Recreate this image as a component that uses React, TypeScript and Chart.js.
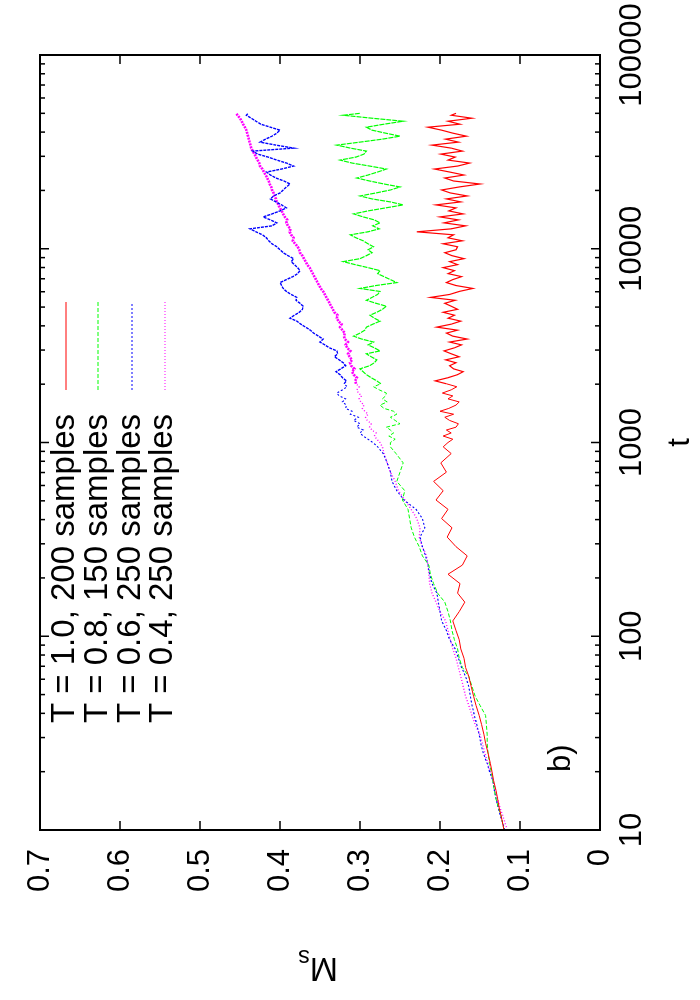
import React, { useEffect, useRef } from "react";
import { Chart, registerables } from "chart.js";

Chart.register(...registerables);

// time grid (t), shared by all four series
const tValues: number[] = [
  10, 11, 12, 13, 14.5, 16, 18, 20, 22, 25,
  28, 31, 35, 39, 44, 49, 55, 62, 69, 77,
  86, 96, 107, 120, 134, 150, 167, 187, 209, 233,
  260, 290, 325, 363, 405, 452, 505, 564, 630, 703,
  785, 877, 950,
  1000, 1040, 1080, 1120, 1160, 1200, 1250, 1300, 1350, 1400,
  1450, 1500, 1560, 1620, 1680, 1740, 1800, 1870, 1940, 2010,
  2080, 2160, 2240, 2320, 2400, 2490, 2580, 2670, 2770, 2870,
  2970, 3080, 3190, 3300, 3420, 3540, 3670, 3800, 3940, 4080,
  4230, 4380, 4540, 4700, 4870, 5050, 5230, 5420, 5610, 5810,
  6020, 6240, 6460, 6690, 6930, 7180, 7440, 7710, 7990, 8280,
  8580, 8890, 9210, 9540, 9880,
  10240, 10610, 10990, 11390, 11800, 12230, 12670, 13130, 13600, 14090,
  14600, 15130, 15680, 16250, 16840, 17450, 18080, 18730, 19410, 20110,
  20840, 21590, 22370, 23180, 24020, 24890, 25790, 26720, 27690, 28690,
  29730, 30800, 31920, 33070, 34270, 35510, 36790, 38120, 39500, 40930,
  42410, 43940, 45530, 47180, 48880, 50000,
];

// T = 1.0, 200 samples
const redValues: number[] = [
  0.120, 0.122, 0.124, 0.126, 0.128, 0.130, 0.133, 0.135, 0.137, 0.140,
  0.143, 0.145, 0.148, 0.151, 0.155, 0.158, 0.161, 0.164, 0.168, 0.170,
  0.174, 0.176, 0.180, 0.184, 0.176, 0.169, 0.178, 0.175, 0.190, 0.172,
  0.166, 0.180, 0.191, 0.185, 0.198, 0.190, 0.205, 0.196, 0.208, 0.192,
  0.199, 0.186, 0.196,
  0.190, 0.184, 0.196, 0.186, 0.192, 0.180, 0.177, 0.188, 0.194, 0.183,
  0.200, 0.189, 0.180, 0.176, 0.190, 0.184, 0.197, 0.186, 0.179, 0.192,
  0.206, 0.190, 0.178, 0.171, 0.183, 0.188, 0.180, 0.193, 0.176, 0.186,
  0.195, 0.182, 0.173, 0.188, 0.166, 0.184, 0.192, 0.178, 0.204, 0.186,
  0.174, 0.190, 0.182, 0.196, 0.178, 0.186, 0.194, 0.181, 0.212, 0.188,
  0.176, 0.159, 0.180, 0.192, 0.184, 0.173, 0.190, 0.182, 0.196, 0.178,
  0.188, 0.170, 0.185, 0.194, 0.180,
  0.178, 0.196, 0.172, 0.190, 0.183, 0.229, 0.186, 0.168, 0.195, 0.177,
  0.200, 0.171, 0.189, 0.180, 0.205, 0.174, 0.192, 0.166, 0.187, 0.198,
  0.176, 0.150, 0.183, 0.194, 0.170, 0.188, 0.207, 0.178, 0.163, 0.190,
  0.181, 0.199, 0.172, 0.186, 0.210, 0.177, 0.193, 0.167, 0.184, 0.198,
  0.215, 0.175, 0.190, 0.160, 0.186, 0.180,
];

// T = 0.8, 150 samples
const greenValues: number[] = [
  0.120, 0.122, 0.124, 0.127, 0.130, 0.132, 0.134, 0.136, 0.138, 0.140,
  0.141, 0.141, 0.142, 0.143, 0.150, 0.156, 0.160, 0.164, 0.172, 0.176,
  0.178, 0.182, 0.185, 0.187, 0.190, 0.194, 0.203, 0.208, 0.212, 0.214,
  0.222, 0.226, 0.232, 0.236, 0.238, 0.240, 0.247, 0.244, 0.254, 0.250,
  0.246, 0.255, 0.262,
  0.262, 0.256, 0.264, 0.258, 0.262, 0.267, 0.250, 0.256, 0.262, 0.254,
  0.258, 0.270, 0.275, 0.266, 0.272, 0.268, 0.267, 0.276, 0.283, 0.274,
  0.279, 0.286, 0.292, 0.296, 0.300, 0.288, 0.282, 0.279, 0.286, 0.292,
  0.275, 0.282, 0.290, 0.283, 0.298, 0.308, 0.300, 0.294, 0.292, 0.284,
  0.275, 0.282, 0.2875, 0.279, 0.272, 0.267, 0.280, 0.292, 0.285, 0.278,
  0.275, 0.300, 0.280, 0.254, 0.262, 0.270, 0.278, 0.275, 0.290, 0.306,
  0.321, 0.300, 0.292, 0.285, 0.290,
  0.283, 0.290, 0.296, 0.305, 0.312, 0.290, 0.276, 0.284, 0.275, 0.282,
  0.296, 0.308, 0.290, 0.268, 0.246, 0.262, 0.285, 0.300, 0.280, 0.262,
  0.250, 0.270, 0.288, 0.304, 0.290, 0.278, 0.267, 0.288, 0.310, 0.325,
  0.305, 0.295, 0.292, 0.312, 0.329, 0.300, 0.272, 0.250, 0.268, 0.285,
  0.292, 0.270, 0.246, 0.285, 0.321, 0.300,
];

// T = 0.6, 250 samples
const blueValues: number[] = [
  0.119, 0.122, 0.125, 0.127, 0.130, 0.132, 0.134, 0.138, 0.141, 0.146,
  0.149, 0.151, 0.154, 0.157, 0.160, 0.162, 0.164, 0.168, 0.173, 0.177,
  0.181, 0.188, 0.192, 0.198, 0.200, 0.202, 0.204, 0.210, 0.213, 0.215,
  0.218, 0.222, 0.225, 0.219, 0.222, 0.230, 0.245, 0.254, 0.260, 0.262,
  0.266, 0.271, 0.278,
  0.284, 0.290, 0.296, 0.300, 0.296, 0.304, 0.300, 0.308, 0.302, 0.312,
  0.310, 0.318, 0.317, 0.322, 0.318, 0.326, 0.329, 0.322, 0.316, 0.320,
  0.317, 0.322, 0.325, 0.330, 0.324, 0.318, 0.321, 0.326, 0.332, 0.328,
  0.329, 0.338, 0.344, 0.350, 0.346, 0.352, 0.358, 0.362, 0.368, 0.374,
  0.379, 0.3875, 0.382, 0.376, 0.372, 0.371, 0.375, 0.380, 0.379, 0.386,
  0.392, 0.396, 0.398, 0.400, 0.392, 0.384, 0.378, 0.375, 0.378, 0.382,
  0.386, 0.383, 0.390, 0.396, 0.400,
  0.404, 0.410, 0.414, 0.417, 0.422, 0.430, 0.4375, 0.410, 0.404, 0.412,
  0.421, 0.410, 0.400, 0.392, 0.398, 0.405, 0.412, 0.408, 0.400, 0.396,
  0.392, 0.3875, 0.395, 0.405, 0.412, 0.4167, 0.398, 0.383, 0.392, 0.404,
  0.415, 0.428, 0.434, 0.383, 0.405, 0.425, 0.418, 0.410, 0.404, 0.400,
  0.412, 0.424, 0.430, 0.436, 0.442, 0.440,
];

// T = 0.4, 250 samples
const magentaValues: number[] = [
  0.116, 0.119, 0.122, 0.125, 0.128, 0.131, 0.134, 0.137, 0.140, 0.144,
  0.147, 0.150, 0.156, 0.160, 0.164, 0.168, 0.171, 0.174, 0.177, 0.180,
  0.184, 0.187, 0.190, 0.193, 0.200, 0.205, 0.210, 0.213, 0.214, 0.215,
  0.217, 0.222, 0.226, 0.225, 0.229, 0.236, 0.244, 0.252, 0.256, 0.262,
  0.266, 0.270, 0.272,
  0.275, 0.279, 0.282, 0.280, 0.285, 0.288, 0.286, 0.291, 0.293, 0.290,
  0.294, 0.297, 0.295, 0.299, 0.301, 0.298, 0.302, 0.304, 0.301, 0.305,
  0.306, 0.304, 0.308, 0.310, 0.307, 0.311, 0.3125, 0.310, 0.313, 0.315,
  0.312, 0.316, 0.318, 0.315, 0.319, 0.320, 0.319, 0.322, 0.325, 0.323,
  0.327, 0.329, 0.328, 0.332, 0.334, 0.336, 0.338, 0.340, 0.342, 0.344,
  0.346, 0.349, 0.351, 0.353, 0.355, 0.357, 0.359, 0.361, 0.363, 0.366,
  0.368, 0.370, 0.372, 0.375, 0.376,
  0.378, 0.381, 0.384, 0.383, 0.386, 0.388, 0.387, 0.390, 0.392, 0.391,
  0.394, 0.396, 0.398, 0.400, 0.402, 0.404, 0.405, 0.407, 0.408, 0.410,
  0.411, 0.413, 0.414, 0.416, 0.418, 0.420, 0.422, 0.425, 0.426, 0.428,
  0.430, 0.432, 0.434, 0.436, 0.437, 0.438, 0.439, 0.440, 0.441, 0.442,
  0.444, 0.446, 0.448, 0.450, 0.453, 0.455,
];

const seriesLabels = [
  "T = 1.0, 200 samples",
  "T = 0.8, 150 samples",
  "T = 0.6, 250 samples",
  "T = 0.4, 250 samples",
];
const seriesColors = ["#ff0000", "#00ff00", "#0000ff", "#ff00ff"];
const seriesDashes: number[][] = [[], [4, 2], [2, 2], [1, 2]];
const seriesWidths = [1, 1, 1.1, 1.4];
// long-time (dense, noisy) part of each curve renders as a heavier band
const denseWidths = [1.2, 1.2, 1.4, 2.6];
const denseDashes: number[][] = [[], [5, 1], [3, 1], [2, 1]];
const denseFrom = 2000;

const tTicks = [10, 100, 1000, 10000, 100000];
const msTicks = [0, 0.1, 0.2, 0.3, 0.4, 0.5, 0.6, 0.7];

const FONT = "'Liberation Sans', Arial, Helvetica, sans-serif";

const gnuplotPlugin = {
  id: "gnuplotFrame",
  afterDatasetsDraw(chart: any) {
    const { ctx, chartArea: a, scales } = chart;
    const xs = scales.x;
    const ys = scales.y;
    ctx.save();
    ctx.strokeStyle = "#000";
    ctx.setLineDash([]);
    ctx.lineWidth = 1.5;
    ctx.beginPath();
    for (let d = 10; d < 100000; d *= 10) {
      for (let m = 1; m <= 9; m++) {
        const px = xs.getPixelForValue(d * m);
        const len = m === 1 ? 9 : 5;
        ctx.moveTo(px, a.bottom);
        ctx.lineTo(px, a.bottom - len);
        ctx.moveTo(px, a.top);
        ctx.lineTo(px, a.top + len);
      }
    }
    msTicks.forEach((v) => {
      const py = ys.getPixelForValue(v);
      ctx.moveTo(a.left, py);
      ctx.lineTo(a.left + 9, py);
      ctx.moveTo(a.right, py);
      ctx.lineTo(a.right - 9, py);
    });
    ctx.stroke();
    ctx.lineWidth = 2;
    ctx.strokeRect(a.left, a.top, a.right - a.left, a.bottom - a.top);

    // key
    ctx.fillStyle = "#000";
    ctx.font = `33px ${FONT}`;
    ctx.textAlign = "left";
    ctx.textBaseline = "alphabetic";
    const rowBase = [74, 107, 140, 172];
    const rowLine = [66, 98, 132, 165];
    seriesLabels.forEach((label, i) => {
      ctx.fillStyle = "#000";
      ctx.fillText(label, 277, rowBase[i]);
      ctx.strokeStyle = seriesColors[i];
      ctx.lineWidth = 1;
      ctx.setLineDash(seriesDashes[i]);
      ctx.beginPath();
      ctx.moveTo(610, rowLine[i]);
      ctx.lineTo(698, rowLine[i]);
      ctx.stroke();
    });
    ctx.setLineDash([]);

    // panel label
    ctx.fillStyle = "#000";
    ctx.font = `31px ${FONT}`;
    ctx.fillText("b)", 228, 570);

    // y axis title M_s (rotated)
    const cy = (a.top + a.bottom) / 2;
    ctx.save();
    ctx.translate(42, cy + 18);
    ctx.rotate(-Math.PI / 2);
    ctx.font = `34px ${FONT}`;
    ctx.fillText("M", 0, 0);
    const mw = ctx.measureText("M").width;
    ctx.font = `23px ${FONT}`;
    ctx.fillText("s", mw, 8);
    ctx.restore();

    ctx.restore();
  },
};

function ChartCanvas() {
  const ref = useRef<HTMLCanvasElement | null>(null);
  useEffect(() => {
    if (!ref.current) return;
    const allValues = [redValues, greenValues, blueValues, magentaValues];
    const datasets = allValues.map((vals, si) => ({
      label: seriesLabels[si],
      data: tValues
        .map((t, i) => ({ x: t, y: vals[i] }))
        .filter((p) => p.y !== undefined),
      borderColor: seriesColors[si],
      backgroundColor: seriesColors[si],
      borderWidth: seriesWidths[si],
      borderDash: seriesDashes[si],
      segment: {
        borderWidth: (c: any) =>
          c.p0.parsed.x >= denseFrom ? denseWidths[si] : seriesWidths[si],
        borderDash: (c: any) =>
          c.p0.parsed.x >= denseFrom ? denseDashes[si] : seriesDashes[si],
      },
      pointRadius: 0,
      showLine: true,
      fill: false,
      tension: 0,
    }));
    const chart = new Chart(ref.current, {
      type: "scatter",
      data: { datasets },
      options: {
        responsive: false,
        maintainAspectRatio: false,
        animation: false,
        devicePixelRatio: 1,
        layout: { padding: { top: 40, right: 55, left: 0, bottom: 0 } },
        plugins: { legend: { display: false }, tooltip: { enabled: false } },
        scales: {
          x: {
            type: "logarithmic",
            position: "bottom",
            min: 10,
            max: 100000,
            afterBuildTicks: (s: any) => {
              s.ticks = tTicks.map((v) => ({ value: v }));
            },
            afterFit: (s: any) => {
              s.height = 100;
              s.paddingLeft = 0;
              s.paddingRight = 0;
            },
            grid: { display: false, drawTicks: false },
            border: { display: false },
            ticks: {
              autoSkip: false,
              maxRotation: 0,
              minRotation: 0,
              padding: 14,
              color: "#000",
              font: { size: 31, family: FONT },
              callback: (v: any) => String(v),
            },
            title: {
              display: true,
              text: "t",
              color: "#000",
              font: { size: 31, family: FONT },
              padding: { top: 0, bottom: 1 },
            },
          },
          y: {
            type: "linear",
            position: "left",
            min: 0,
            max: 0.7,
            afterBuildTicks: (s: any) => {
              s.ticks = msTicks.map((v) => ({ value: v }));
            },
            afterFit: (s: any) => {
              s.width = 170;
              s.paddingTop = 0;
              s.paddingBottom = 0;
            },
            grid: { display: false, drawTicks: false },
            border: { display: false },
            ticks: {
              padding: 19,
              color: "#000",
              font: { size: 31, family: FONT },
              callback: (v: any) => (Number(v) === 0 ? "0" : Number(v).toFixed(1)),
            },
            title: { display: false },
          },
        },
      },
      plugins: [gnuplotPlugin],
    } as any);
    return () => chart.destroy();
  }, []);
  return (
    <canvas
      ref={ref}
      width={1000}
      height={700}
      style={{ display: "block", width: 1000, height: 700 }}
    />
  );
}

export default function App() {
  return (
    <div
      style={{
        position: "fixed",
        left: 0,
        top: 0,
        width: 700,
        height: 1000,
        overflow: "hidden",
        background: "#fff",
      }}
    >
      <div
        style={{
          position: "absolute",
          left: 0,
          top: 0,
          width: 1000,
          height: 700,
          transformOrigin: "0 0",
          transform: "translate(0px, 1000px) rotate(-90deg)",
        }}
      >
        <ChartCanvas />
      </div>
    </div>
  );
}
